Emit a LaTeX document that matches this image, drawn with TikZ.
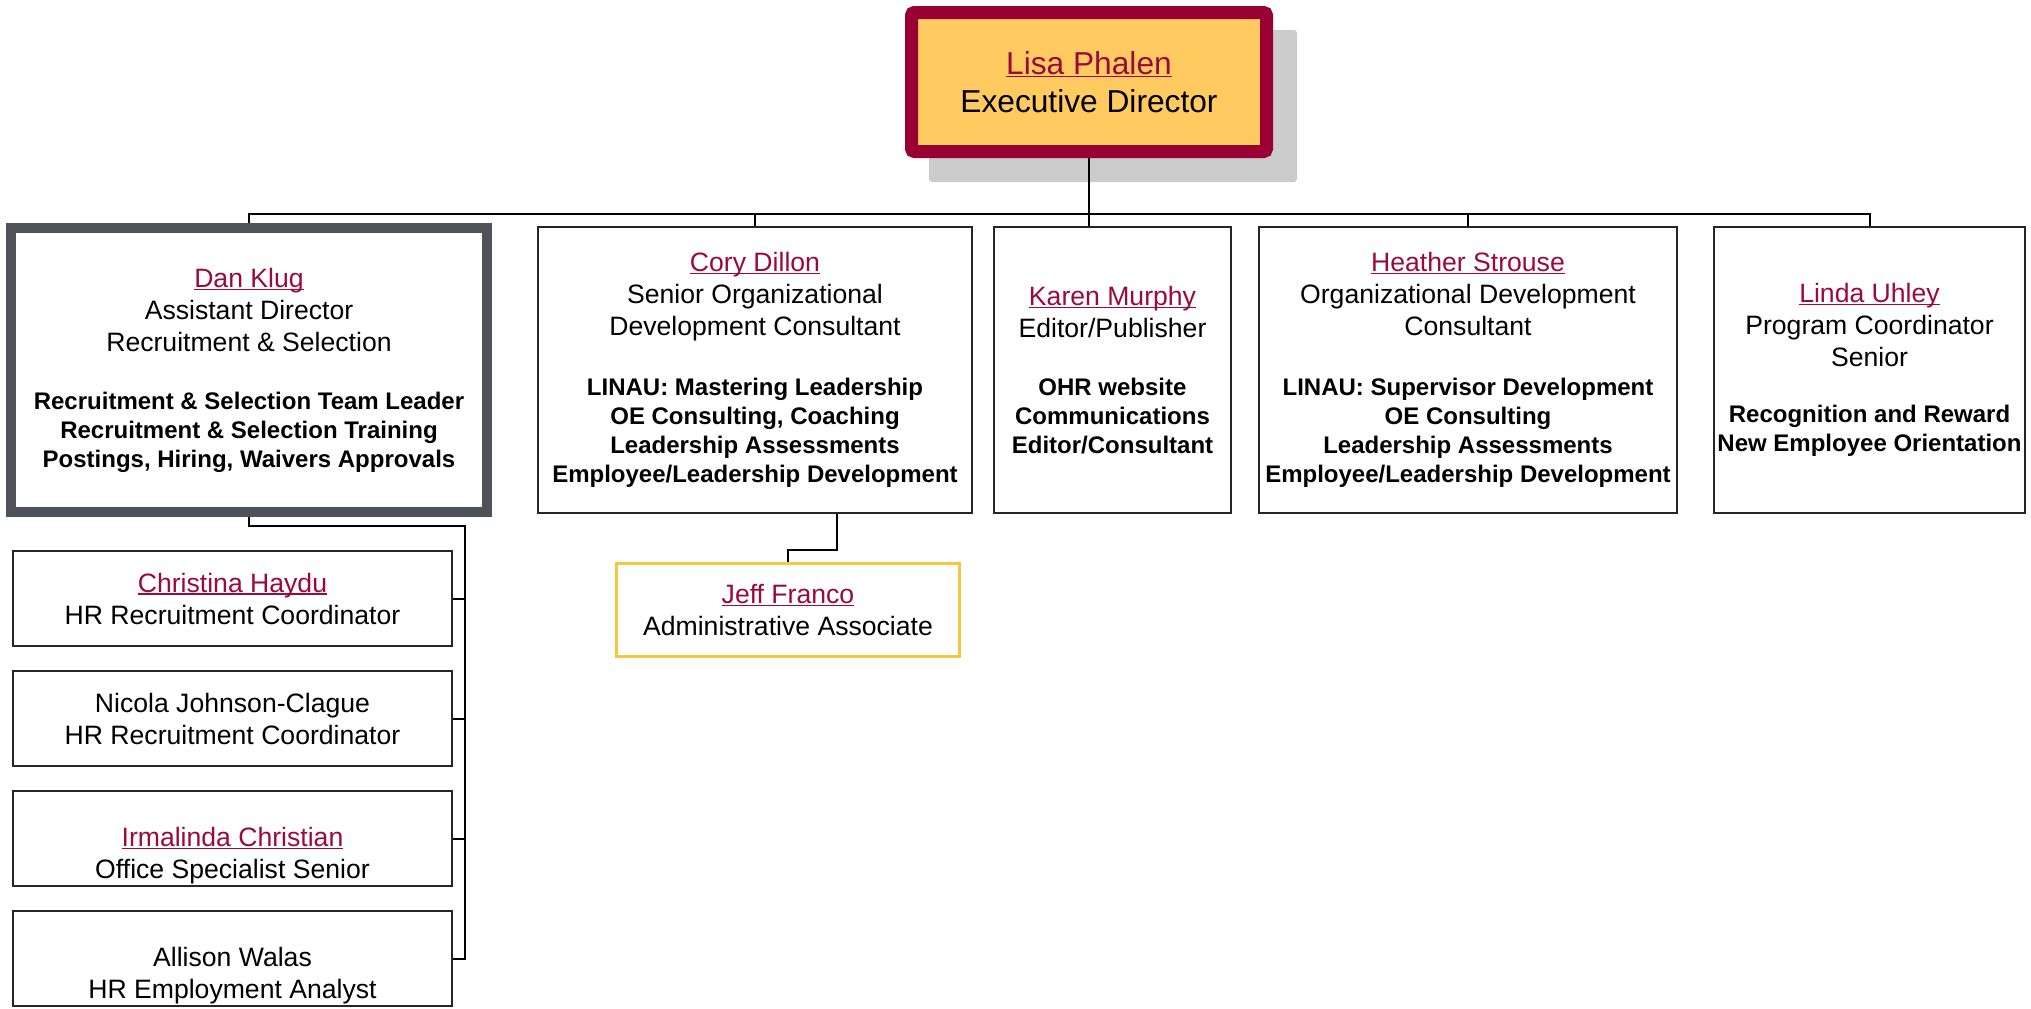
\documentclass[tikz,border=0pt]{standalone}
\usepackage{fontspec}
\setmainfont{Liberation Sans}
\usetikzlibrary{positioning,backgrounds}

\definecolor{namered}{HTML}{9C0A3C}
\definecolor{execred}{HTML}{990033}
\definecolor{execfill}{HTML}{FFCA5F}
\definecolor{leadgray}{HTML}{4D5358}
\definecolor{adminyellow}{HTML}{FBC441}
\definecolor{shadowgray}{HTML}{CCCCCC}

\newcommand{\nm}[1]{{\color{namered}\setbox0=\hbox{#1}\rlap{\rule[-1.4pt]{\wd0}{0.7pt}}\box0}}
\newcommand{\duty}[1]{{\fontsize{12}{14.5}\selectfont\bfseries #1}}

\begin{document}
\begin{tikzpicture}[x=0.5pt,y=-0.5pt]
\tikzstyle{box}=[rectangle, draw=black!85, line width=1pt, fill=white, align=center, inner sep=1pt, font=\fontsize{13.3}{16}\selectfont]
\tikzstyle{head}=[box, minimum width=217pt, minimum height=143pt]
\tikzstyle{kid}=[box, minimum width=219.5pt, minimum height=47.5pt]
\tikzstyle{kidtext}=[align=center, font=\fontsize{13.3}{16}\selectfont, yshift=-8.5pt]
\tikzstyle{connect}=[line width=1pt]
\useasboundingbox (0,0) rectangle (2031,1008);
  % director
  \node[box, draw=execred, line width=6.5pt, fill=execfill, minimum width=177.5pt, minimum height=69.5pt, rounded corners=1.5pt, font=\fontsize{15.85}{19}\selectfont] (phalen) at (1089,82) {\nm{Lisa Phalen}\\Executive Director};
  \begin{scope}[on background layer]
    \fill[shadowgray, rounded corners=1.5pt] ([shift={(24,24)}]phalen.south west) rectangle ([shift={(24,24)}]phalen.north east);
  \end{scope}
  % second row
  \node[head, draw=leadgray, line width=5pt, minimum width=238pt, minimum height=142pt] (klug) at (249,370) {\nm{Dan Klug}\\Assistant Director\\Recruitment \& Selection\\[13pt]\duty{Recruitment \& Selection Team Leader}\\[-1.5pt]\duty{Recruitment \& Selection Training}\\[-1.5pt]\duty{Postings, Hiring, Waivers Approvals}};
  \node[head] (dillon) at (755,370) {\nm{Cory Dillon}\\Senior Organizational\\Development Consultant\\[14pt]\duty{LINAU: Mastering Leadership}\\[-1.5pt]\duty{OE Consulting, Coaching}\\[-1.5pt]\duty{Leadership Assessments}\\[-1.5pt]\duty{Employee/Leadership Development}};
  \node[head, minimum width=118.5pt] (murphy) at (1112.5,370) {\nm{Karen Murphy}\\Editor/Publisher\\[13pt]\duty{OHR website}\\[-1.5pt]\duty{Communications}\\[-1.5pt]\duty{Editor/Consultant}};
  \node[head, minimum width=209pt] (strouse) at (1468,370) {\nm{Heather Strouse}\\Organizational Development\\Consultant\\[14pt]\duty{LINAU: Supervisor Development}\\[-1.5pt]\duty{OE Consulting}\\[-1.5pt]\duty{Leadership Assessments}\\[-1.5pt]\duty{Employee/Leadership Development}};
  \node[head, minimum width=155.5pt] (uhley) at (1869.5,370) {\nm{Linda Uhley}\\Program Coordinator\\Senior\\[12pt]\duty{Recognition and Reward}\\[-1.5pt]\duty{New Employee Orientation}};
  % staff
  \node[box, draw=adminyellow, line width=1.5pt, minimum width=171.5pt, minimum height=46.5pt] (franco) at (788,610) {\nm{Jeff Franco}\\Administrative Associate};
  \node[kid] (haydu) at (232.5,598.5) {\nm{Christina Haydu}\\HR Recruitment Coordinator};
  \node[kid, below=11.5pt of haydu] (johnson) {Nicola Johnson-Clague\\HR Recruitment Coordinator};
  \node[kid, below=11.5pt of johnson, label={[kidtext]center:\nm{Irmalinda Christian}\\Office Specialist Senior}] (christian) {};
  \node[kid, below=11.5pt of christian, label={[kidtext]center:Allison Walas\\HR Employment Analyst}] (walas) {};
  % lines
  \coordinate (bar) at (0,214);
  \draw[connect] (klug.north) -- (klug.north |- bar) -- (uhley.north |- bar) -- (uhley.north);
  \foreach \n in {dillon,strouse} \draw[connect] (\n.north) -- (\n.north |- bar);
  \draw[connect] (phalen.south) -- (phalen.south |- murphy.north);
  \coordinate (trunk) at (465,526);
  \draw[connect] (klug.south) |- (trunk) -- (trunk |- walas.east) -- (walas.east);
  \foreach \n in {haydu,johnson,christian} \draw[connect] (\n.east) -- (\n.east -| trunk);
  \draw[connect] ([xshift=41pt]dillon.south) -- ++(0,36) -| (franco.north);
\end{tikzpicture}
\end{document}
